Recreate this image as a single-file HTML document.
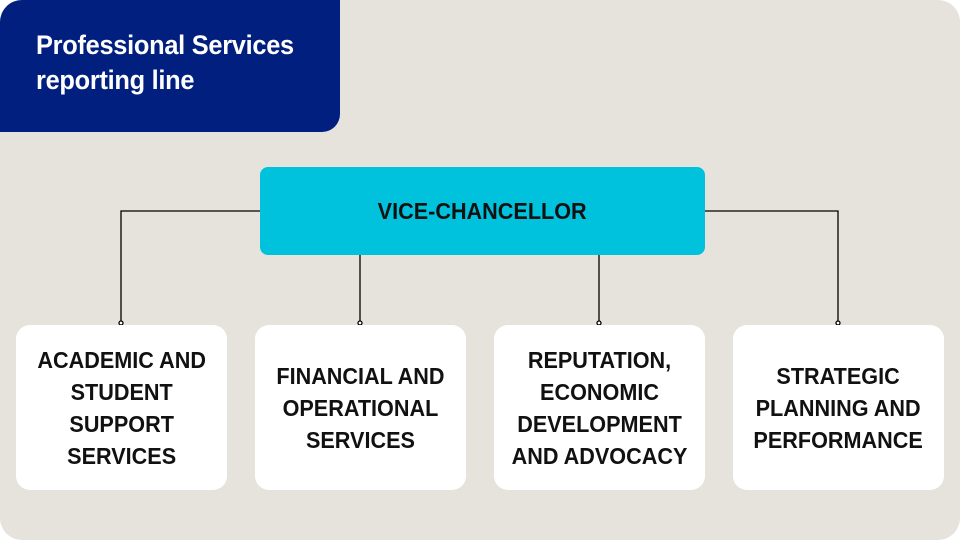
<!DOCTYPE html>
<html><head><meta charset="utf-8"><style>
html,body{margin:0;padding:0;background:#fff;}
#c{position:relative;width:960px;height:540px;background:#e6e3dc;border-radius:22px;overflow:hidden;font-family:"Liberation Sans",sans-serif;font-weight:bold;}
.hd{position:absolute;left:0;top:0;width:340px;height:132px;background:#001f7e;border-radius:18px 0 18px 0;}
.hd div{position:absolute;left:36px;top:28px;color:#fff;font-size:27px;line-height:35px;letter-spacing:-0.3px;transform:scaleX(0.94);transform-origin:left center;white-space:nowrap;}
.vc{position:absolute;left:260px;top:167px;width:445px;height:88px;background:#00c2dd;border-radius:8px;display:flex;align-items:center;justify-content:center;font-size:23px;color:#111;}
.b{position:absolute;top:325px;width:211px;height:165px;background:#fff;border-radius:14px;display:flex;align-items:center;justify-content:center;text-align:center;font-size:23px;line-height:32px;color:#111;}
.s{display:inline-block;transform:scaleX(0.94);white-space:nowrap;}
svg{position:absolute;left:0;top:0;}
</style></head><body><div id="c">
<div class="hd"><div>Professional Services<br>reporting line</div></div>
<svg width="960" height="540">
<g stroke="#000" stroke-width="1.3" fill="#fff">
<polyline points="260,211 121,211 121,321" fill="none"/>
<polyline points="705,211 838,211 838,321" fill="none"/>
<line x1="360" y1="255" x2="360" y2="321"/>
<line x1="599" y1="255" x2="599" y2="321"/>
<circle cx="121" cy="323" r="2"/><circle cx="360" cy="323" r="2"/><circle cx="599" cy="323" r="2"/><circle cx="838" cy="323" r="2"/>
</g></svg>
<div class="vc"><span class="s">VICE-CHANCELLOR</span></div>
<div class="b" style="left:16px"><span class="s">ACADEMIC AND<br>STUDENT<br>SUPPORT<br>SERVICES</span></div>
<div class="b" style="left:255px"><span class="s">FINANCIAL AND<br>OPERATIONAL<br>SERVICES</span></div>
<div class="b" style="left:494px"><span class="s">REPUTATION,<br>ECONOMIC<br>DEVELOPMENT<br>AND ADVOCACY</span></div>
<div class="b" style="left:733px"><span class="s">STRATEGIC<br>PLANNING AND<br>PERFORMANCE</span></div>
</div></body></html>
